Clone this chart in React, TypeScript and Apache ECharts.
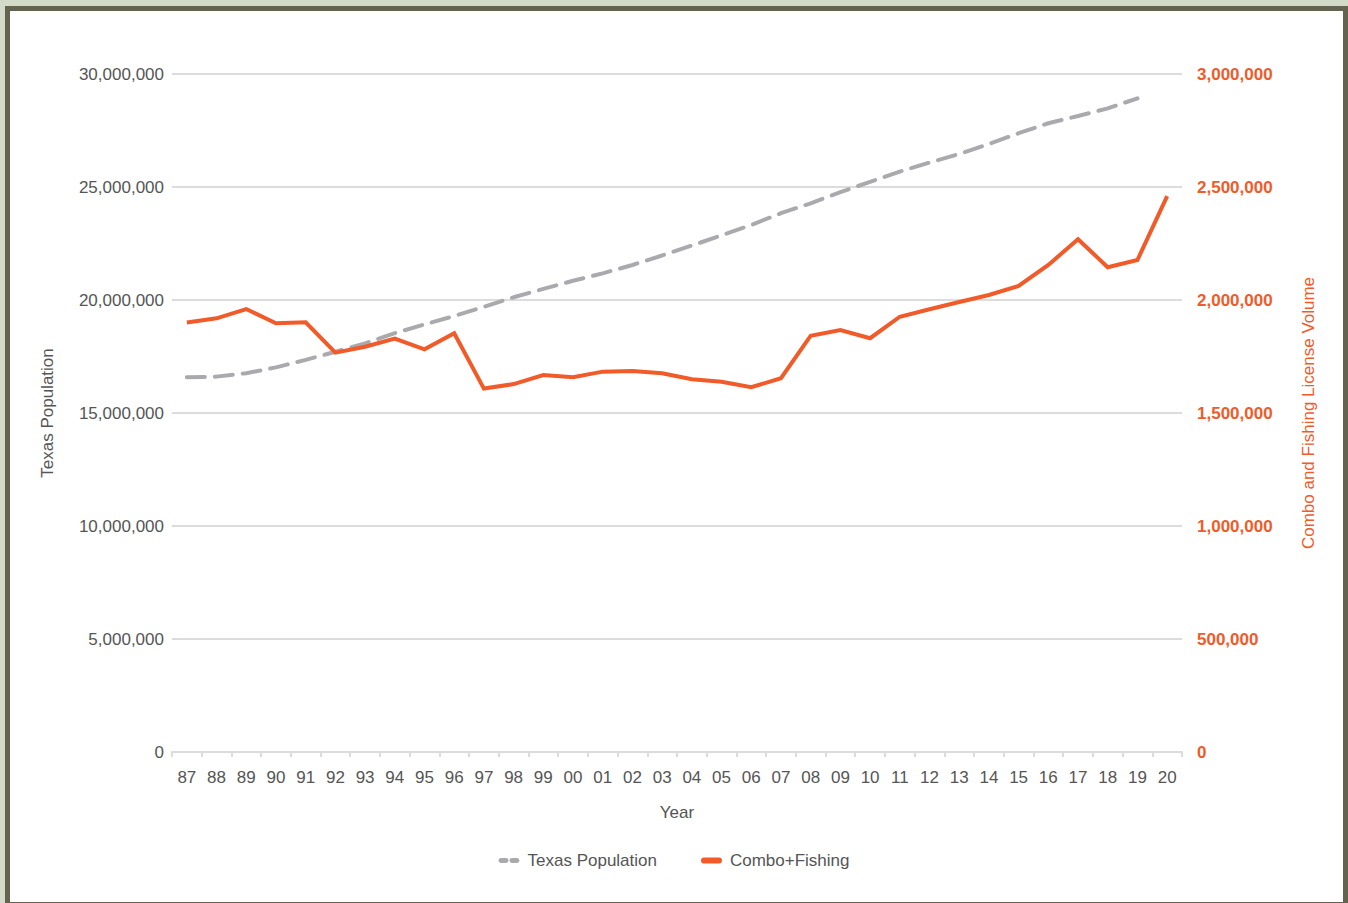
import React, { useEffect, useRef } from "react";
import * as echarts from "echarts";

const years = ["87","88","89","90","91","92","93","94","95","96","97","98","99","00","01","02","03","04","05","06","07","08","09","10","11","12","13","14","15","16","17","18","19","20"];

const texasPopulation = [
  16580000, 16610000, 16760000, 17020000, 17350000, 17710000, 18080000, 18530000, 18920000, 19290000,
  19700000, 20120000, 20490000, 20850000, 21180000, 21550000, 21970000, 22410000, 22860000, 23320000,
  23840000, 24280000, 24770000, 25230000, 25680000, 26080000, 26460000, 26900000, 27380000, 27820000,
  28140000, 28480000, 28920000, null,
];

const comboFishing = [
  1900000, 1919000, 1960000, 1897000, 1901000, 1767000, 1793000, 1829000, 1782000, 1853000,
  1608000, 1628000, 1668000, 1658000, 1683000, 1686000, 1676000, 1649000, 1638000, 1614000,
  1654000, 1842000, 1867000, 1831000, 1926000, 1959000, 1991000, 2022000, 2062000, 2155000,
  2269000, 2145000, 2177000, 2460000,
];

const FONT = "'Helvetica Neue', Arial, 'Liberation Sans', sans-serif";
const ORANGE = "#f15a29";
const GREY_LINE = "#aaaaae";
const GREY_TEXT = "#555555";
const GRID = "#dcdcdc";

const DASH_ICON = "path://M2.5,0.5h5a2.5,2.5 0 0 1 0,5h-5a2.5,2.5 0 0 1 0,-5zM13.5,0.5h5a2.5,2.5 0 0 1 0,5h-5a2.5,2.5 0 0 1 0,-5zM0,0h0.01v6h-0.01zM21,0h0.01v6h-0.01z";
const SOLID_ICON = "path://M3,0h15a3,3 0 0 1 0,6h-15a3,3 0 0 1 0,-6z";

const fmt = (v: number) => v.toLocaleString("en-US");

export default function App() {
  const ref = useRef<HTMLDivElement>(null);
  useEffect(() => {
    document.body.style.margin = "0";
    const chart = echarts.init(ref.current!, null, { renderer: "svg" });
    chart.setOption({
      animation: false,
      textStyle: { fontFamily: FONT },
      grid: { left: 172, right: 166, top: 74, bottom: 151, containLabel: false },
      legend: {
        top: 847,
        left: "center",
        itemGap: 44,
        itemWidth: 21,
        itemHeight: 6,
        textStyle: { color: GREY_TEXT, fontSize: 17, fontFamily: FONT, padding: [0, 0, 0, 3] },
        data: [
          { name: "Texas Population", icon: DASH_ICON, itemStyle: { color: GREY_LINE } },
          { name: "Combo+Fishing", icon: SOLID_ICON, itemStyle: { color: ORANGE } },
        ],
      },
      xAxis: {
        type: "category",
        data: years,
        boundaryGap: true,
        name: "Year",
        nameLocation: "middle",
        nameGap: 52,
        nameTextStyle: { color: GREY_TEXT, fontSize: 17 },
        axisLine: { lineStyle: { color: GRID, width: 2 } },
        axisTick: { show: true, length: 5, lineStyle: { color: GRID, width: 2 } },
        axisLabel: { color: GREY_TEXT, fontSize: 17, margin: 17 },
      },
      yAxis: [
        {
          type: "value",
          min: 0,
          max: 30000000,
          interval: 5000000,
          name: "Texas Population",
          nameLocation: "middle",
          nameGap: 116,
          nameTextStyle: { color: GREY_TEXT, fontSize: 17 },
          axisLine: { show: false },
          axisTick: { show: false },
          axisLabel: { color: GREY_TEXT, fontSize: 17, margin: 8, formatter: fmt },
          splitLine: { lineStyle: { color: GRID, width: 2 } },
        },
        {
          type: "value",
          min: 0,
          max: 3000000,
          interval: 500000,
          name: "Combo and Fishing License Volume",
          nameLocation: "middle",
          nameGap: 118,
          nameRotate: 90,
          nameTextStyle: { color: ORANGE, fontSize: 17 },
          axisLine: { show: false },
          axisTick: { show: false },
          axisLabel: { color: ORANGE, fontSize: 17, fontWeight: "bold", margin: 15, formatter: fmt },
          splitLine: { show: false },
        },
      ],
      series: [
        {
          name: "Texas Population",
          type: "line",
          yAxisIndex: 0,
          data: texasPopulation,
          showSymbol: false,
          symbol: "none",
          lineStyle: { color: GREY_LINE, width: 4, type: [18, 10], cap: "round" },
          itemStyle: { color: GREY_LINE },
        },
        {
          name: "Combo+Fishing",
          type: "line",
          yAxisIndex: 1,
          data: comboFishing,
          showSymbol: false,
          symbol: "none",
          lineStyle: { color: ORANGE, width: 4, join: "miter" },
          itemStyle: { color: ORANGE },
        },
      ],
    });
    return () => chart.dispose();
  }, []);

  return (
    <div style={{ position: "fixed", left: 0, top: 0, width: 1348, height: 903, background: "#d4dac8", overflow: "hidden" }}>
      <div
        style={{
          position: "absolute",
          left: 5,
          top: 6,
          width: 1333,
          height: 891,
          border: "5px solid #64634f",
          background: "#ffffff",
        }}
      />
      <div ref={ref} style={{ position: "absolute", left: 0, top: 0, width: 1348, height: 903 }} />
    </div>
  );
}
